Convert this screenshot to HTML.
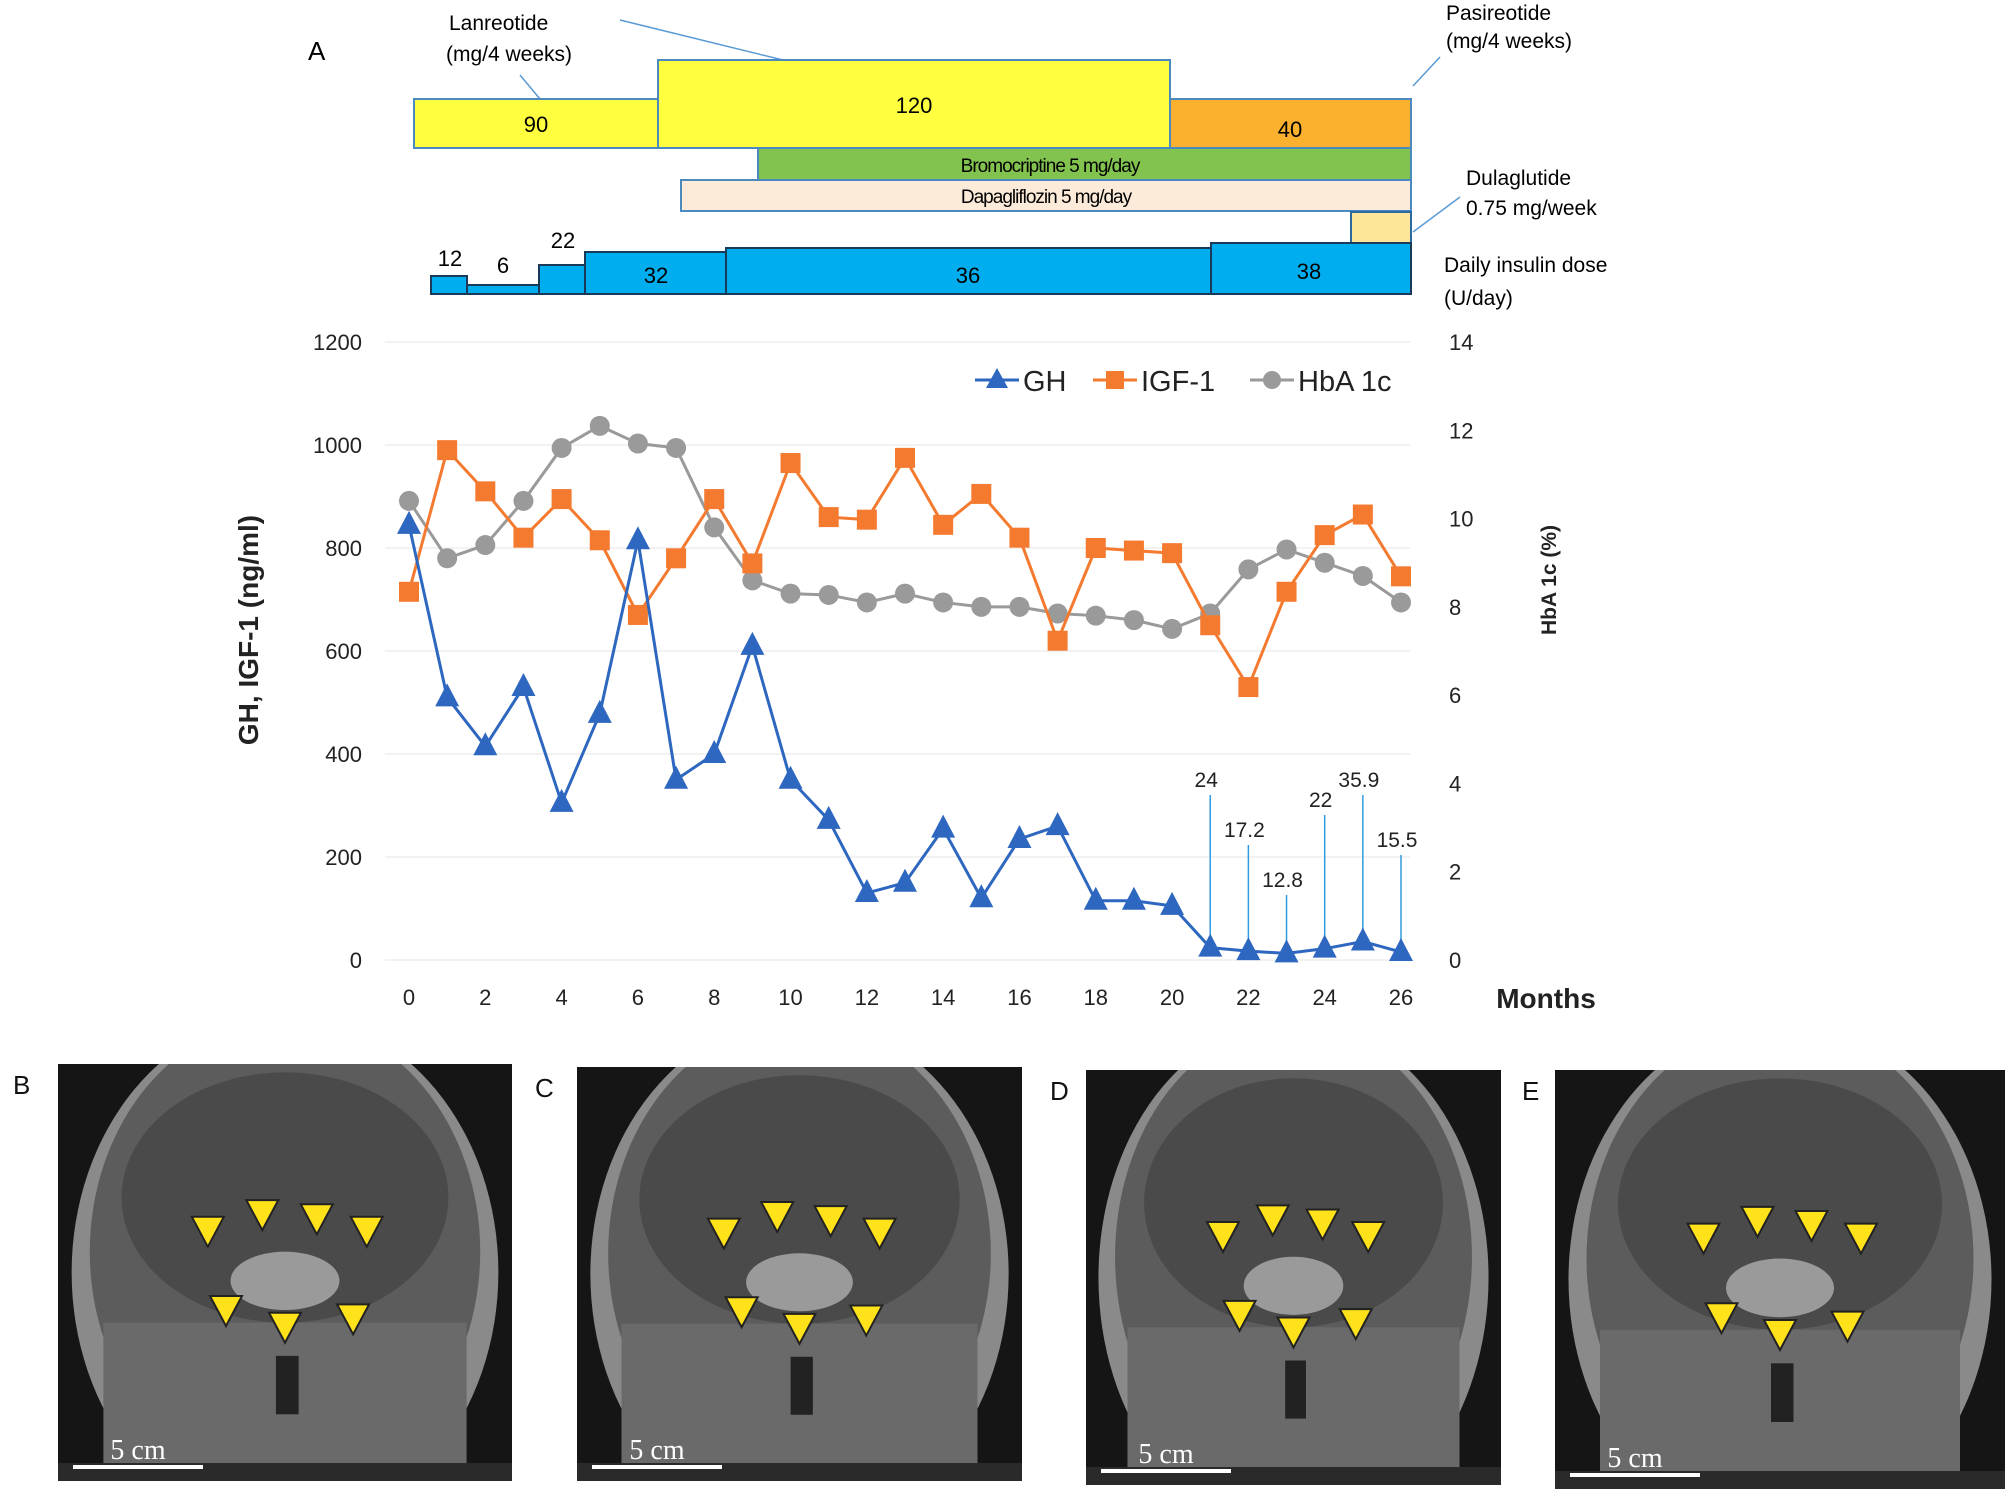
<!DOCTYPE html>
<html><head><meta charset="utf-8"><style>
body{margin:0;background:#fff}
svg{display:block;font-family:"Liberation Sans",Arial,sans-serif}
</style></head><body>
<svg id="fig" width="2008" height="1490" viewBox="0 0 2008 1490">
<defs id="defs"></defs>
<g>
<text x="308" y="60" font-size="26">A</text>
<text x="449" y="30" font-size="21">Lanreotide</text>
<text x="446" y="61" font-size="21">(mg/4 weeks)</text>
<line x1="520" y1="75" x2="540" y2="99" stroke="#5b9bd5" stroke-width="1.5"/>
<line x1="620" y1="20" x2="783" y2="60" stroke="#5b9bd5" stroke-width="1.5"/>
<rect x="414" y="99" width="244" height="49" fill="#ffff40" stroke="#4a8abf" stroke-width="2"/>
<text x="536" y="132" font-size="22" text-anchor="middle">90</text>
<rect x="658" y="60" width="512" height="88" fill="#ffff40" stroke="#4a8abf" stroke-width="2"/>
<text x="914" y="113" font-size="22" text-anchor="middle">120</text>
<rect x="1170" y="99" width="241" height="49" fill="#fbb12d" stroke="#4a8abf" stroke-width="2"/>
<text x="1290" y="137" font-size="22" text-anchor="middle">40</text>
<text x="1446" y="20" font-size="21">Pasireotide</text>
<text x="1446" y="48" font-size="21">(mg/4 weeks)</text>
<line x1="1440" y1="57" x2="1413" y2="86" stroke="#5b9bd5" stroke-width="1.5"/>
<rect x="758" y="148" width="653" height="32" fill="#82c24f" stroke="#4a8abf" stroke-width="2"/>
<text x="1050" y="172" font-size="19" text-anchor="middle" letter-spacing="-1">Bromocriptine 5 mg/day</text>
<rect x="681" y="180" width="730" height="31" fill="#fcebd9" stroke="#4a8abf" stroke-width="2"/>
<text x="1046" y="203" font-size="19" text-anchor="middle" letter-spacing="-1">Dapagliflozin 5 mg/day</text>
<rect x="1351" y="212" width="60" height="32" fill="#fde69a" stroke="#2a6aa0" stroke-width="2"/>
<text x="1466" y="185" font-size="21">Dulaglutide</text>
<text x="1466" y="215" font-size="21">0.75 mg/week</text>
<line x1="1460" y1="197" x2="1413" y2="232" stroke="#5b9bd5" stroke-width="1.5"/>
<g fill="#00aeef" stroke="#1a3a5a" stroke-width="2">
<rect x="431" y="276" width="36" height="18"/>
<rect x="467" y="285" width="72" height="9"/>
<rect x="539" y="265" width="46" height="29"/>
<rect x="585" y="252" width="141" height="42"/>
<rect x="726" y="248" width="485" height="46"/>
<rect x="1211" y="243" width="200" height="51"/>
</g>
<g font-size="22" text-anchor="middle">
<text x="450" y="266">12</text><text x="503" y="273">6</text><text x="563" y="248">22</text>
<text x="656" y="283">32</text><text x="968" y="283">36</text><text x="1309" y="279">38</text>
</g>
<text x="1444" y="272" font-size="21">Daily insulin dose</text>
<text x="1444" y="305" font-size="21">(U/day)</text>
</g>
<g id="chart"></g>
<g id="mri"></g>
</svg>
<script>
const months=[0,1,2,3,4,5,6,7,8,9,10,11,12,13,14,15,16,17,18,19,20,21,22,23,24,25,26];
const ghValues=[845,510,415,530,305,478,815,350,400,610,350,272,130,150,255,120,235,260,115,115,105,24,17.2,12.8,22,35.9,15.5];
const igfValues=[715,990,910,820,895,815,670,780,895,770,965,860,855,975,845,905,820,620,800,795,790,650,530,715,825,865,745];
const hba1cValues=[10.4,9.1,9.4,10.4,11.6,12.1,11.7,11.6,9.8,8.6,8.3,8.27,8.1,8.3,8.1,8.0,8.0,7.85,7.8,7.7,7.5,7.85,8.85,9.3,9.0,8.7,8.1];
const leftTicks=[0,200,400,600,800,1000,1200];
const rightTicks=[0,2,4,6,8,10,12,14];
const xTicks=[0,2,4,6,8,10,12,14,16,18,20,22,24,26];
const annotIdx=[21,22,23,24,25,26];
const annotTop=[795,845,895,815,795,855];
const NS="http://www.w3.org/2000/svg";
const X=m=>409+m*(1401-409)/26;
const YL=v=>960-v*(960-342)/1200;
const YR=v=>960-v*(960-342)/14;
function mk(t,a,p){const e=document.createElementNS(NS,t);for(const k in a)e.setAttribute(k,a[k]);(p||chart).appendChild(e);return e;}
const chart=document.getElementById('chart');
leftTicks.forEach(v=>{
 const g=mk('line',{x1:385,x2:1410,y1:YL(v),y2:YL(v),stroke:'#eee','stroke-width':1.5});
 
 
 const t=mk('text',{x:362,y:YL(v)+8,'font-size':22,'text-anchor':'end',fill:'#222'});t.textContent=v;
 
 
});
rightTicks.forEach(v=>{
 const t=mk('text',{x:1449,y:YR(v)+8,'font-size':22,'text-anchor':'start',fill:'#222'});t.textContent=v;
 
 
});
xTicks.forEach(m=>{
 const t=mk('text',{x:X(m),y:1005,'font-size':22,'text-anchor':'middle',fill:'#222'});t.textContent=m;
 
 
});
let t=mk('text',{x:1546,y:1008,'font-size':28,'text-anchor':'middle','font-weight':'bold',fill:'#222'});t.textContent='Months';


t=mk('text',{x:0,y:0,'font-size':28,'font-weight':'bold','text-anchor':'middle',transform:'translate(258,630) rotate(-90)',fill:'#222'});t.textContent='GH, IGF-1 (ng/ml)';


t=mk('text',{x:0,y:0,'font-size':21,'font-weight':'bold','text-anchor':'middle',transform:'translate(1556,580) rotate(-90)',fill:'#222'});t.textContent='HbA 1c (%)';


annotIdx.forEach((m,i)=>{
 const l=mk('line',{x1:X(m),x2:X(m),y1:YL(ghValues[m]),y2:annotTop[i],stroke:'#2e9be0','stroke-width':1.5});
 
 
 const tx=mk('text',{x:X(m)-4,y:annotTop[i]-8,'font-size':21,'text-anchor':'middle',fill:'#222'});tx.textContent=ghValues[m];
 
 
});
function series(vals,yf,color,shape,name){
 const p=mk('polyline',{points:vals.map((v,i)=>X(months[i])+','+yf(v)).join(' '),fill:'none',stroke:color,'stroke-width':3});
 
 
 vals.forEach((v,i)=>{
  const x=X(months[i]),y=yf(v);let e;
  if(shape==='tri')e=mk('polygon',{points:`${x},${y-14} ${x-12},${y+9} ${x+12},${y+9}`,fill:color});
  else if(shape==='sq')e=mk('rect',{x:x-10,y:y-10,width:20,height:20,fill:color});
  else e=mk('circle',{cx:x,cy:y,r:10,fill:color});
  
  
 });
}
series(hba1cValues,YR,'#9a9a9a','circ','hba1c');
series(igfValues,YL,'#f47a30','sq','igf1');
series(ghValues,YL,'#2e67bf','tri','gh');
const lg=[['GH','#2e67bf','tri',975],['IGF-1','#f47a30','sq',1093],['HbA 1c','#9a9a9a','circ',1250]];
lg.forEach(([n,c,s,x])=>{
 const y=380;
 const l=mk('line',{x1:x,x2:x+44,y1:y,y2:y,stroke:c,'stroke-width':3});
 
 
 const cx=x+22;
 if(s==='tri')mk('polygon',{points:`${cx},${y-12} ${cx-11},${y+8} ${cx+11},${y+8}`,fill:c});
 else if(s==='sq')mk('rect',{x:cx-9,y:y-9,width:18,height:18,fill:c});
 else mk('circle',{cx:cx,cy:y,r:9,fill:c});
 const tx=mk('text',{x:x+48,y:y+11,'font-size':29,fill:'#222'});tx.textContent=n;
 
 
});
// MRI panels
const mri=document.getElementById('mri');
const defs=document.getElementById('defs');
const panels=[['B',58,1064,454,417,13],['C',577,1067,445,414,535],['D',1086,1070,415,415,1050],['E',1555,1070,450,419,1522]];
panels.forEach(([lab,x,y,w,h,lx],k)=>{
 const cp=mk('clipPath',{id:'cp'+k},defs);
 mk('rect',{x:x,y:y,width:w,height:h},cp);
 const g=mk('g',{'clip-path':'url(#cp'+k+')'},mri);
 
 
 mk('rect',{x:x,y:y,width:w,height:h,fill:'#151515'},g);
 mk('ellipse',{cx:x+w/2,cy:y+h*0.5,rx:w*0.47,ry:h*0.62,fill:'#8a8a8a'},g);
 mk('ellipse',{cx:x+w/2,cy:y+h*0.45,rx:w*0.43,ry:h*0.56,fill:'#5c5c5c'},g);
 mk('ellipse',{cx:x+w/2,cy:y+h*0.32,rx:w*0.36,ry:h*0.3,fill:'#4a4a4a'},g);
 mk('rect',{x:x+w*0.1,y:y+h*0.62,width:w*0.8,height:h*0.38,fill:'#6a6a6a'},g);
 mk('ellipse',{cx:x+w/2,cy:y+h*0.52,rx:w*0.12,ry:h*0.07,fill:'#9a9a9a'},g);
 mk('rect',{x:x+w*0.48,y:y+h*0.7,width:w*0.05,height:h*0.14,fill:'#222'},g);
 const cx=x+w/2,cy=y+h*0.52,tri=[[-0.17,-0.12],[-0.05,-0.16],[0.07,-0.15],[0.18,-0.12],[-0.13,0.07],[0.0,0.11],[0.15,0.09]];
 tri.forEach(([dx,dy])=>{const tx=cx+dx*w,ty=cy+dy*h;
  const p=mk('polygon',{points:`${tx-16},${ty-14} ${tx+16},${ty-14} ${tx},${ty+16}`,fill:'#ffe21a',stroke:'#222','stroke-width':2},g);
  
  });
 mk('rect',{x:x,y:y+h-18,width:w,height:18,fill:'#2a2a2a'},g);
 mk('line',{x1:x+15,x2:x+145,y1:y+h-14,y2:y+h-14,stroke:'#fff','stroke-width':4},g);
 const s=mk('text',{x:x+80,y:y+h-22,'font-size':28,'font-family':'Liberation Serif',fill:'#fff','text-anchor':'middle'},g);s.textContent='5 cm';
 
 
 const L=mk('text',{x:lx,y:y+30,'font-size':26,fill:'#111'},mri);L.textContent=lab;
 
 
});
</script>
</body></html>
